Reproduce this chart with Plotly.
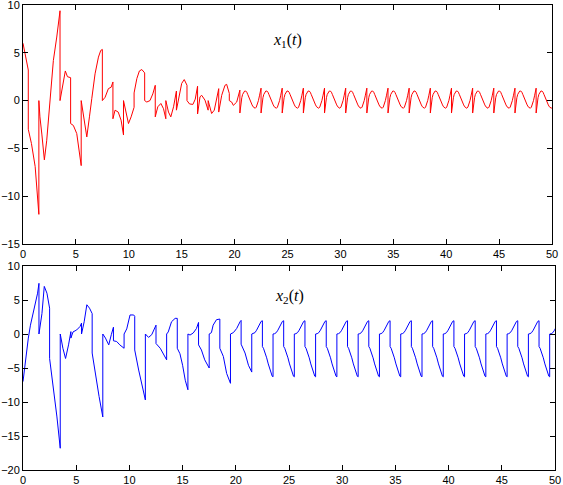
import plotly.graph_objs as go

x1_t = [0, 0.2, 0.5, 0.5, 0.8, 1.15, 1.35, 1.5, 1.5, 1.6, 1.78, 2.02, 2.24, 2.55,
        2.87, 3.19, 3.5, 3.5, 3.75, 4.0, 4.2, 4.5, 4.5, 4.76, 5.08, 5.33, 5.5, 5.5,
        5.7, 6.03, 6.28, 6.5, 6.5, 6.81, 7.13, 7.35, 7.5, 7.5, 7.76, 8.07, 8.33,
        8.5, 8.5, 8.7, 9.0, 9.27, 9.5, 9.5, 9.75, 9.97, 10.22, 10.5, 10.5, 10.76,
        11.0, 11.23, 11.5, 11.5, 11.7, 12.0, 12.27, 12.5, 12.5, 12.74, 13.03, 13.28,
        13.5, 13.5, 13.75, 13.97, 14.23, 14.5, 14.5, 14.7, 15.0, 15.24, 15.43, 15.5,
        15.5, 15.74, 16.06, 16.28, 16.5, 16.5, 16.73, 16.89, 17.2, 17.5, 17.5, 17.68,
        17.83, 18.08, 18.3, 18.5, 18.5, 18.78, 19.09, 19.25, 19.5, 19.5, 19.72,
        19.88, 20.2, 20.5]
x1_v = [6.0, 4.9, 3.2, -3.0, -4.5, -6.9, -9.4, -11.9, 0.0, -1.7, -3.5, -6.2, -4.2, 0.0,
        4.2, 6.65, 9.4, 0.0, 1.6, 3.1, 2.5, 2.4, -2.4, -2.6, -3.45, -5.2, -6.8, 0.0,
        -1.4, -3.8, -1.7, -0.2, 0.2, 2.8, 4.55, 5.25, 5.35, 0.0, 0.35, 1.25, 1.4,
        1.95, -1.9, -1.0, -1.2, -2.05, -3.6, 0.0, -1.4, -2.4, -1.7, -0.7, 0.8, 2.3,
        3.1, 3.25, 2.9, 0.0, -0.15, 0.0, 0.7, 1.6, -1.7, -0.65, -0.3, -0.85,
        -1.9, 0.0, -1.2, -1.7, -0.65, 1.0, -1.0, 0.2, 1.8, 2.2, 1.85, 1.6,
        0.0, -0.35, -0.4, 0.15, 1.5, -1.4, 0.4, 0.55, 0.05, -1.0, 0.0, -0.65,
        -1.35, -1.0, 0.4, 1.25, -1.2, 0.55, 1.6, 1.7, 0.75, 0.0, -0.15,
        -0.5, -0.15, 1.1]

# x1 settles into the same 2-unit shape after t = 20.5
x1_cycle_dt = [0.0, 0.05, 0.10, 0.18, 0.26, 0.35, 0.45, 0.55, 0.65, 0.75, 0.85, 0.95,
               1.05, 1.15, 1.25, 1.35, 1.45, 1.55, 1.65, 1.75, 1.85, 1.93, 2.00]
x1_cycle_v = [-1.30, -0.75, -0.25, 0.30, 0.65, 0.88, 1.00, 1.00, 0.88, 0.62, 0.30, 0.05,
              -0.20, -0.45, -0.65, -0.78, -0.80, -0.68, -0.40, 0.00, 0.50, 0.95, 1.30]

x2_t = [0, 0.22, 0.5, 0.7, 1.0, 1.37, 1.5, 1.5, 1.78, 2.0, 2.25, 2.5, 2.5, 2.88, 3.19,
        3.5, 3.5, 3.75, 4.0, 4.28, 4.5, 4.5, 4.7, 5.05, 5.36, 5.5, 5.5, 5.75, 6.0,
        6.25, 6.5, 6.5, 6.78, 7.15, 7.5, 7.5, 7.75, 8.06, 8.3, 8.5, 8.5, 8.8, 9.1,
        9.5, 9.5, 9.75, 10.06, 10.4, 10.5, 10.5, 10.87, 11.5, 11.5, 11.8, 12.1, 12.5,
        12.5, 12.9, 13.5, 13.5, 13.65, 13.96, 14.3, 14.5, 14.5, 14.75, 15.0, 15.25,
        15.5, 15.5, 15.7, 16.0, 16.3, 16.5, 16.5, 16.77, 17.08, 17.4, 17.5, 17.5,
        17.71, 17.87, 18.18, 18.5, 18.5, 18.83, 19.14, 19.5, 19.5, 19.77, 20.08,
        20.4, 20.5, 20.5, 20.87, 21.19, 21.5]
x2_v = [-7.0, -3.8, -0.6, 1.3, 3.3, 6.0, 7.45, 0.0, 3.0, 7.0, 6.0, 3.8, -3.6, -8.2, -12.2,
        -16.8, 0.0, -2.1, -3.6, -1.6, 0.35, -0.6, 0.3, 0.6, 1.1, 1.6, 0.0, 1.8, 4.3,
        3.8, 3.0, -2.8, -5.8, -9.2, -12.2, 0.0, -0.6, -1.6, -0.1, 1.0, -1.0, -1.1, -1.6,
        -2.1, 0.0, 0.75, 2.8, 2.8, 2.6, -2.35, -5.3, -9.7, 0.0, -0.5, -0.1, 1.3,
        -1.4, -2.1, -3.8, 0.0, 0.3, 1.8, 2.3, 2.3, -2.1, -2.9, -4.6, -6.8,
        -8.2, 0.0, -0.15, 0.15, 0.8, 1.7, -1.6, -2.35, -3.8, -4.9, -5.0, 0.0,
        0.2, 1.3, 2.1, 2.2, -2.1, -3.3, -5.8, -7.25, 0.0, 0.2, 0.8,
        1.8, 2.0, -1.5, -2.8, -4.6, -5.6]

# x2 settles into the same 2-unit shape after t = 21.5
x2_cycle_dt = [0.0, 0.15, 0.30, 0.45, 0.60, 0.75, 0.88, 1.00, 1.00, 1.10, 1.25, 1.40,
               1.55, 1.70, 1.82, 1.92, 2.00]
x2_cycle_v = [0.0, 0.05, 0.20, 0.55, 1.00, 1.50, 1.85, 1.95, -1.85, -2.10, -2.70, -3.50,
              -4.40, -5.30, -5.90, -6.20, -6.30]

T_END = 50


def add_cycles(ts, vs, start, dts, cvs):
    ts = list(ts)
    vs = list(vs)
    t0 = start
    while t0 < T_END:
        for dt, v in zip(dts, cvs):
            ts.append(round(t0 + dt, 3))
            vs.append(v)
        t0 += 2
    return ts, vs


t1, v1 = add_cycles(x1_t, x1_v, 20.5, x1_cycle_dt, x1_cycle_v)
t2, v2 = add_cycles(x2_t, x2_v, 21.5, x2_cycle_dt, x2_cycle_v)

W, H = 563, 485
# plot area in pixels: left 23, right 555, top 5, bottom 470
L, R, T, B = 23, 555, 5, 470
PW, PH = R - L, B - T
tick_font = dict(family="Liberation Sans, Arial, sans-serif", size=11, color="black")


def axis_style(**kw):
    d = dict(showline=True, linecolor="black", linewidth=1, mirror="ticks",
             ticks="inside", ticklen=5, tickcolor="black", tickwidth=1,
             showgrid=False, zeroline=False, tickfont=tick_font, automargin=False,
             ticklabeloverflow="allow")
    d.update(kw)
    return d


fig = go.Figure()
fig.add_trace(go.Scatter(x=t1, y=v1, mode="lines", line=dict(color="#ff0000", width=1),
                         xaxis="x", yaxis="y", showlegend=False))
fig.add_trace(go.Scatter(x=t2, y=v2, mode="lines", line=dict(color="#0000ff", width=1),
                         xaxis="x2", yaxis="y2", showlegend=False))

fig.update_layout(
    width=W, height=H,
    margin=dict(l=L, r=W - R, t=T, b=H - B, pad=0),
    paper_bgcolor="white", plot_bgcolor="white",
    xaxis=axis_style(domain=[0, (552 - L) / PW], range=[0, 50], dtick=5, anchor="y"),
    yaxis=axis_style(domain=[(B - 244) / PH, 1], range=[-15, 10], dtick=5, anchor="x"),
    xaxis2=axis_style(domain=[0, 1], range=[0, 50], dtick=5, anchor="y2"),
    yaxis2=axis_style(domain=[0, (B - 266) / PH], range=[-20, 10], dtick=5, anchor="x2"),
    annotations=[
        dict(text="<i>x</i><sub>1</sub>(<i>t</i>)", x=25, y=6.3, xref="x", yref="y",
             showarrow=False, font=dict(family="Liberation Serif, serif", size=16,
                                        color="black")),
        dict(text="<i>x</i><sub>2</sub>(<i>t</i>)", x=25, y=5.5, xref="x2", yref="y2",
             showarrow=False, font=dict(family="Liberation Serif, serif", size=16,
                                        color="black")),
    ],
)

# the page body has a default 8px margin; drop it so the figure fills the window
fig.write_html("out.html", config={"displayModeBar": False},
               post_script="document.body.style.margin='0px';"
                           "document.body.style.overflow='hidden';")
